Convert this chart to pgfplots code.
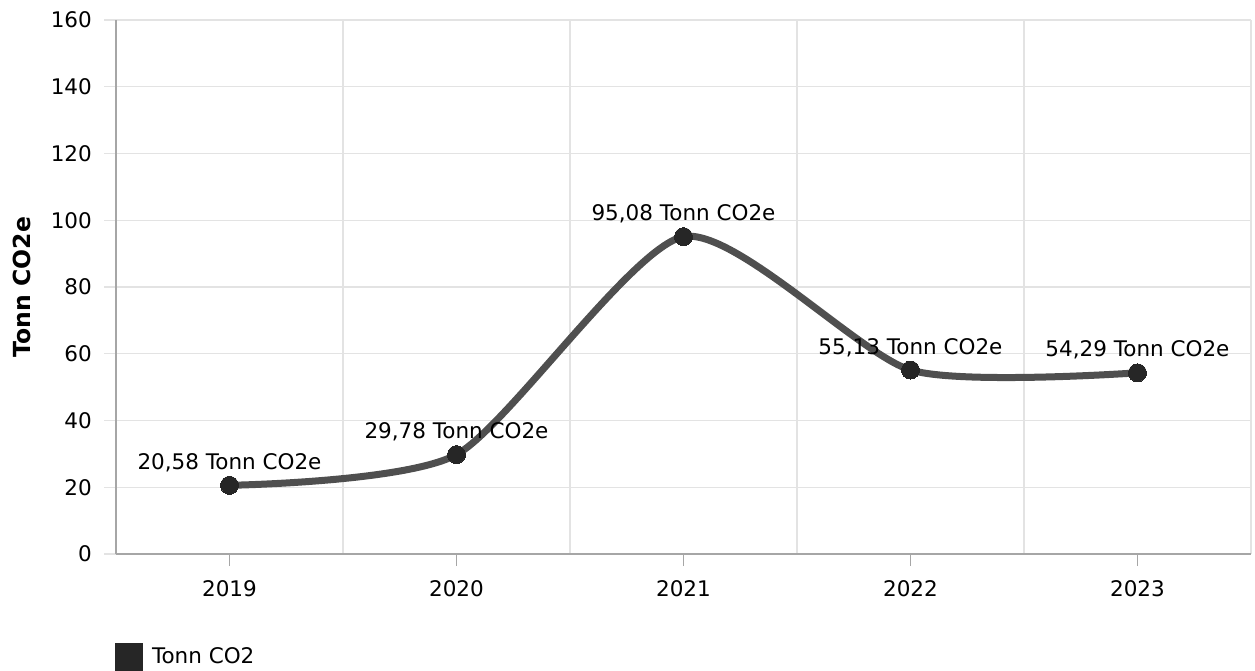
\documentclass[border=0pt]{standalone}
\usepackage{pgfplots}
\pgfplotsset{compat=1.18}
\usepackage{fontspec}
\setmainfont{DejaVu Sans}
\definecolor{linec}{HTML}{4F4F4F}
\definecolor{markc}{HTML}{262626}
\definecolor{gridc}{HTML}{E3E3E3}
\definecolor{axisc}{HTML}{A6A6A6}
\begin{document}
\fontsize{21.5}{26}\selectfont
\begin{tikzpicture}
\useasboundingbox (-116pt,-116pt) rectangle (1139pt,554pt);
\begin{axis}[
  anchor=south west, at={(0pt,0pt)},
  scale only axis, width=1135pt, height=534pt,
  xmin=-0.5, xmax=4.5, ymin=0, ymax=160,
  axis lines*=left,
  xtick={0,1,2,3,4},
  xticklabels={2019,2020,2021,2022,2023},
  minor xtick={-0.5,0.5,1.5,2.5,3.5,4.5},
  ytick={0,20,...,160},
  xmajorgrids=false, xminorgrids=true, ymajorgrids=true,
  grid style={gridc, line width=1.3pt},
  minor grid style={gridc, line width=1.3pt},
  tick align=outside,
  major tick length=12pt, minor tick length=0pt,
  x tick style={axisc, line width=1.3pt},
  y tick style={gridc, line width=1.3pt},
  x axis line style={axisc, line width=1.5pt},
  y axis line style={axisc, line width=1.5pt},
  /pgf/number format/assume math mode=true,
  tick label style={font=\fontsize{21.5}{26}\selectfont, black},
  yticklabel style={inner sep=0pt, xshift=-12pt},
  xticklabel style={inner sep=0pt, yshift=-14pt},
  every axis y label/.style={at={(axis description cs:-0.0828,0.5)}, rotate=90, anchor=center, font=\fontsize{23.5}{26}\selectfont\bfseries},
  ylabel={Tonn CO2e},
  legend style={at={(axis description cs:-0.001,-0.193)}, anchor=west, draw=none, fill=none, inner sep=0pt, font=\fontsize{21.5}{26}\selectfont,
    nodes={inner sep=0pt}},
  legend image code/.code={\path[draw=none, fill=markc, line width=0pt] (0pt,-14pt) rectangle (28pt,14pt);},
  legend cell align=left,
]
\addplot[linec, line width=7pt, smooth, tension=0.4,
  mark=*, mark size=9pt, mark options={markc, fill=markc, line width=0pt},
  point meta=explicit symbolic,
  nodes near coords,
  nodes near coords style={anchor=base, yshift=16pt, inner sep=0pt, black, font=\fontsize{21.5}{26}\selectfont},
] table[meta=lab, col sep=comma] {
x,y,lab
0,20.58,{20,58 Tonn CO2e}
1,29.78,{29,78 Tonn CO2e}
2,95.08,{95,08 Tonn CO2e}
3,55.13,{55,13 Tonn CO2e}
4,54.29,{54,29 Tonn CO2e}
};
\addlegendentry{\hspace{9pt}Tonn CO2}
\end{axis}
\end{tikzpicture}
\end{document}
